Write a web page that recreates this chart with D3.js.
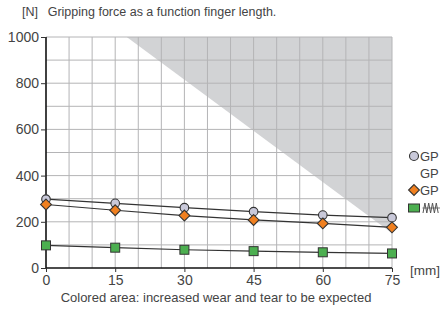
<!DOCTYPE html>
<html>
<head>
<meta charset="utf-8">
<script src="https://cdn.jsdelivr.net/npm/d3@7"></script>
<style>
  body { margin: 0; background: #fff; }
  text { font-family: "Liberation Sans", Arial, sans-serif; fill: #444; }
</style>
</head>
<body>
<div id="chart"></div>
<script>
// data
const lengths = [0, 15, 30, 45, 60, 75];
const gpCircle = [298, 280, 261, 244, 229, 218];
const gpDiamond = [275, 250, 227, 208, 193, 176];
const gpSquare = [98, 88, 79, 73, 68, 63];
const yTicks = [0, 200, 400, 600, 800, 1000];
const wearZone = [[17.5, 1000], [75, 1000], [75, 150]];

const W = 442, H = 313;
const margin = {top: 37, right: 50, bottom: 45, left: 46};
const width = W - margin.left - margin.right;
const height = H - margin.top - margin.bottom;

const svg = d3.select("#chart").append("svg")
    .attr("width", W).attr("height", H);
const g = svg.append("g")
    .attr("transform", "translate(" + margin.left + "," + margin.top + ")");

const x = d3.scaleLinear().domain([0, 75]).range([0, width]);
const y = d3.scaleLinear().domain([0, 1000]).range([height, 0]);

// shaded wear zone
g.append("path")
    .attr("d", d3.line().x(d => x(d[0])).y(d => y(d[1]))(wearZone) + "Z")
    .attr("fill", "#d2d3d5");

// grid
g.selectAll(".vgrid").data(d3.range(5, 76, 5)).enter().append("line")
    .attr("x1", d => x(d)).attr("x2", d => x(d))
    .attr("y1", 0).attr("y2", height)
    .attr("stroke", "#b4b4b6").attr("stroke-width", 1);
g.selectAll(".hgrid").data(d3.range(100, 1001, 100)).enter().append("line")
    .attr("x1", 0).attr("x2", width)
    .attr("y1", d => y(d)).attr("y2", d => y(d))
    .attr("stroke", "#b4b4b6").attr("stroke-width", 1);

// axes
const yAxis = d3.axisLeft(y).tickValues(yTicks).tickFormat(d3.format("d")).tickSize(5).tickPadding(2);
const xAxis = d3.axisBottom(x).tickValues(lengths).tickSize(4).tickPadding(3);

const ya = g.append("g").call(yAxis);
ya.select(".domain").attr("stroke", "#111").attr("stroke-width", 1.6).attr("d", "M0," + height + "V0");
ya.selectAll("text").style("font-size", "14px").attr("fill", "#444");
ya.selectAll("line").attr("stroke", "#333");

const xa = g.append("g").attr("transform", "translate(0," + height + ")").call(xAxis);
xa.select(".domain").attr("stroke", "#111").attr("stroke-width", 1.6).attr("d", "M0,0H" + width);
xa.selectAll("text").style("font-size", "14px").attr("fill", "#444");
xa.selectAll("line").attr("stroke", "#333");

// series
const line = d3.line().x((d, i) => x(lengths[i])).y(d => y(d));
[gpCircle, gpDiamond, gpSquare].forEach(s => {
  g.append("path").attr("d", line(s))
      .attr("fill", "none").attr("stroke", "#333").attr("stroke-width", 1.2);
});

g.selectAll(".circ").data(gpCircle).enter().append("circle")
    .attr("cx", (d, i) => x(lengths[i])).attr("cy", d => y(d)).attr("r", 4.3)
    .attr("fill", "#c9c9da").attr("stroke", "#333").attr("stroke-width", 1.1);

const diamond = d3.symbol().type(d3.symbolDiamond2).size(75);
g.selectAll(".diam").data(gpDiamond).enter().append("path")
    .attr("d", diamond)
    .attr("transform", (d, i) => "translate(" + x(lengths[i]) + "," + y(d) + ")")
    .attr("fill", "#f08020").attr("stroke", "#333").attr("stroke-width", 1.1);

g.selectAll(".sq").data(gpSquare).enter().append("rect")
    .attr("x", (d, i) => x(lengths[i]) - 4.5).attr("y", d => y(d) - 4.5)
    .attr("width", 9).attr("height", 9)
    .attr("fill", "#4caf50").attr("stroke", "#333").attr("stroke-width", 1);

// legend
const leg = svg.append("g");
leg.append("circle").attr("cx", 414).attr("cy", 156).attr("r", 4.5)
    .attr("fill", "#c9c9da").attr("stroke", "#333").attr("stroke-width", 1.1);
leg.append("text").attr("x", 420).attr("y", 160.5).style("font-size", "13px").text("GP");
leg.append("text").attr("x", 420).attr("y", 177.5).style("font-size", "13px").text("GP");
leg.append("path").attr("d", diamond)
    .attr("transform", "translate(414,190)")
    .attr("fill", "#f08020").attr("stroke", "#333").attr("stroke-width", 1.1);
leg.append("text").attr("x", 420).attr("y", 194.5).style("font-size", "13px").text("GP");
leg.append("rect").attr("x", 408.5).attr("y", 204).attr("width", 11).attr("height", 8)
    .attr("fill", "#4caf50").attr("stroke", "#333").attr("stroke-width", 1);
// spring icon
const zig = d3.range(0, 9).map(i => [423 + i * 1.9, i % 2 ? 203 : 213]);
leg.append("path").attr("d", d3.line()(zig))
    .attr("fill", "none").attr("stroke", "#555").attr("stroke-width", 1);
leg.append("path").attr("d", "M422.5,208H440").attr("stroke", "#555").attr("stroke-width", 0.8);

// texts
svg.append("text").attr("x", 22).attr("y", 16).style("font-size", "12.5px")
    .text("[N]\u2002 Gripping force as a function finger length.");
svg.append("text").attr("x", 410).attr("y", 275).style("font-size", "13.5px").text("[mm]");
svg.append("text").attr("x", 216).attr("y", 302).attr("text-anchor", "middle")
    .style("font-size", "13px").text("Colored area: increased wear and tear to be expected");
</script>
</body>
</html>
